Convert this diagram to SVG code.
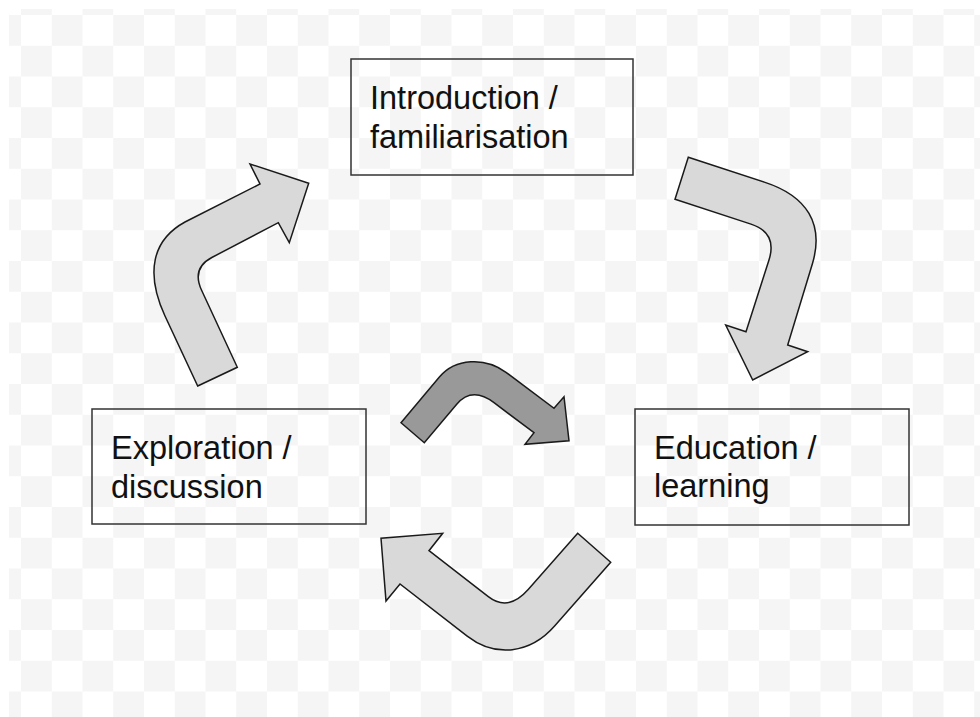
<svg xmlns="http://www.w3.org/2000/svg" width="980" height="717" viewBox="0 0 980 717">
  <defs>
    <pattern id="checker" patternUnits="userSpaceOnUse" x="-9.75" y="-15.75" width="61.5" height="61.5">
      <rect width="61.5" height="61.5" fill="#ffffff"/>
      <rect x="30.75" y="0" width="30.75" height="30.75" fill="#f5f5f5"/>
      <rect x="0" y="30.75" width="30.75" height="30.75" fill="#f5f5f5"/>
    </pattern>
  </defs>
  <style>
    .box { fill: none; stroke: #333333; stroke-width: 1.5; }
    .label { font-family: "Liberation Sans", Arial, sans-serif; font-size: 32.5px; fill: #111111; }
    .arrow { stroke: #1a1a1a; stroke-width: 1.5; stroke-linejoin: miter; }
    .light { fill: #d9d9d9; }
    .dark { fill: #999999; }
  </style>

  <!-- background -->
  <rect width="980" height="717" fill="#ffffff"/>
  <rect x="9" y="9" width="971" height="708" fill="url(#checker)"/>

  <!-- stage boxes -->
  <g id="introduction">
    <rect class="box" x="351" y="59" width="282" height="116"/>
    <text class="label" x="370" y="108.5">Introduction /</text>
    <text class="label" x="370" y="147.5">familiarisation</text>
  </g>
  <g id="exploration">
    <rect class="box" x="92" y="409" width="274" height="115"/>
    <text class="label" x="111" y="459">Exploration /</text>
    <text class="label" x="111" y="497.5">discussion</text>
  </g>
  <g id="education">
    <rect class="box" x="635" y="409" width="274" height="116"/>
    <text class="label" x="654" y="458.5">Education /</text>
    <text class="label" x="654" y="497">learning</text>
  </g>

  <!-- curved block arrows -->
  <g id="connectors">
    <path class="arrow light" d="M 197.7 386 L 237.3 367.3 L 201.6 290.3 Q 191.4 268.2 211.8 257.5 L 278.3 222.7 L 289.3 242.7 L 308.7 183.3 L 250 164 L 260 184 L 185 222 C 152.1 240 145.2 272.9 165 316 Z"/>
    <path class="arrow light" d="M 688.3 157.3 L 675 199.3 L 751 224.1 Q 777.7 232.8 768.9 260.3 L 746 331.7 L 725.7 325 L 752.7 380 L 807.7 351.7 L 787.7 345 L 812.4 263.7 C 824.2 224.6 807.5 196.1 764.3 182.1 Z"/>
    <path class="arrow dark" d="M 401 422.7 L 439.6 376.8 C 455.1 358.5 484.9 356.5 506 372.3 L 554 408.3 L 564 396.7 L 569 440.7 L 525 444.3 L 534 432.7 L 494 402.7 Q 472 386.1 456.5 404.5 L 424.3 442.7 Z"/>
    <path class="arrow light" d="M 577.7 533.3 L 528.2 589.6 Q 508.3 612.2 488.3 596.7 L 429 550.7 L 442.7 533.3 L 381 538.3 L 386 601 L 400 584 L 467.2 636.1 C 495.2 657.9 530.2 653.9 554.6 626.1 L 610.7 562.3 Z"/>
  </g>
</svg>
